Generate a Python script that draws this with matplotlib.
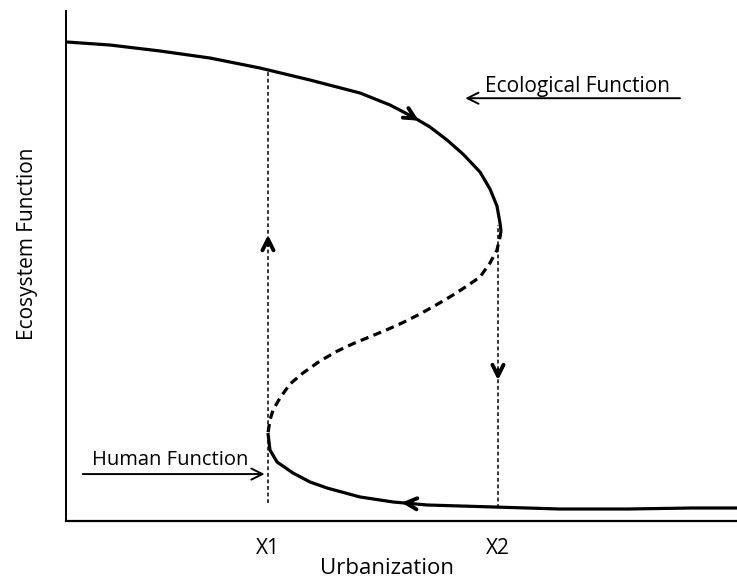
import matplotlib
matplotlib.use("Agg")
import matplotlib.pyplot as plt

plt.rcParams['font.family'] = ['Open Sans', 'DejaVu Sans']

# S-shaped hysteresis curve (urbanization, ecosystem function)
upper_x = [0.15, 6.56, 14.01, 21.46, 28.91, 36.36, 43.82, 48.29, 51.71, 54.25, 56.78,
           59.16, 61.70, 63.19, 64.23, 64.68, 64.83]
upper_y = [93.92, 93.33, 92.16, 90.78, 88.82, 86.47, 83.92, 81.57, 79.22, 77.25, 74.71,
           71.96, 68.43, 65.10, 61.76, 58.43, 56.86]

middle_x = [64.83, 64.68, 64.23, 63.19, 61.70, 59.76, 57.68, 55.29, 52.76, 50.22, 47.84,
            45.31, 42.77, 40.39, 37.85, 35.32, 33.38, 31.89, 30.85, 30.40, 30.10]
middle_y = [56.86, 55.69, 53.14, 50.59, 47.84, 46.08, 44.31, 42.45, 40.59, 38.92, 37.51,
            36.14, 34.76, 33.29, 31.37, 29.02, 26.86, 24.12, 21.76, 19.80, 17.25]

lower_x = [30.10, 30.40, 31.45, 33.83, 36.36, 38.90, 43.82, 48.73, 53.80, 63.64, 73.62,
           83.61, 93.44, 100.0]
lower_y = [17.25, 13.92, 11.57, 9.41, 7.65, 6.47, 4.71, 3.73, 3.14, 2.75, 2.35,
           2.35, 2.55, 2.55]

# thresholds
x1, x2 = 30.10, 64.38
x1_span = (3.5, 88.45)
x2_span = (2.6, 58.0)
tick_labels = ["X1", "X2"]

# direction chevrons: (from, to)
chevrons = [
    ((51.3, 79.5), (52.6, 78.5)),   # along upper branch
    ((x1, 54.1), (x1, 56.1)),       # up on X1
    ((x2, 29.6), (x2, 27.6)),       # down on X2
    ((51.5, 3.45), (50.0, 3.6)),    # back along lower branch
]

fig = plt.figure(figsize=(7.37, 5.81), dpi=100)
ax = fig.add_axes([66 / 737, 60 / 581, 671 / 737, 510 / 581])
ax.set_xlim(0, 100)
ax.set_ylim(0, 100)

ax.plot(upper_x, upper_y, color='black', lw=2.3, solid_joinstyle='round',
        solid_capstyle='butt', clip_on=False)
ax.plot(middle_x, middle_y, color='black', lw=2.3, dashes=(2.6, 1.7), clip_on=False)
ax.plot(lower_x, lower_y, color='black', lw=2.3, solid_joinstyle='round',
        solid_capstyle='butt', clip_on=False)

ax.plot([x1, x1], x1_span, color='black', lw=1.1, dashes=(2.5, 1.8))
ax.plot([x2, x2], x2_span, color='black', lw=1.1, dashes=(2.5, 1.8))

for start, end in chevrons:
    ax.annotate('', xy=end, xytext=start,
                arrowprops=dict(arrowstyle='->', lw=2.8, color='black',
                                mutation_scale=20, shrinkA=0, shrinkB=0))

# labelled pointers
ax.annotate('', xy=(59.5, 82.9), xytext=(91.5, 82.9),
            arrowprops=dict(arrowstyle='->', lw=1.4, color='black',
                            mutation_scale=20, shrinkA=0, shrinkB=0))
ax.text(62.4, 85.2, "Ecological Function", fontsize=15, ha='left', va='center')

ax.annotate('', xy=(29.6, 9.2), xytext=(2.5, 9.2),
            arrowprops=dict(arrowstyle='->', lw=1.4, color='black',
                            mutation_scale=20, shrinkA=0, shrinkB=0))
ax.text(3.9, 11.9, "Human Function", fontsize=14.5, ha='left', va='center')

ax.set_xticks([x1, x2])
ax.set_xticklabels(tick_labels, fontsize=15)
ax.tick_params(axis='x', length=0, pad=12)
ax.set_yticks([])

ax.text(0.478, -0.094, "Urbanization", transform=ax.transAxes, fontsize=16,
        ha='center', va='center')
ax.text(-0.058, 0.543, "Ecosystem Function", transform=ax.transAxes, fontsize=15,
        ha='center', va='center', rotation=90)

for side in ['top', 'right']:
    ax.spines[side].set_visible(False)
ax.spines['left'].set_linewidth(1.4)
ax.spines['bottom'].set_linewidth(1.6)

fig.savefig("out.png", dpi=100)
